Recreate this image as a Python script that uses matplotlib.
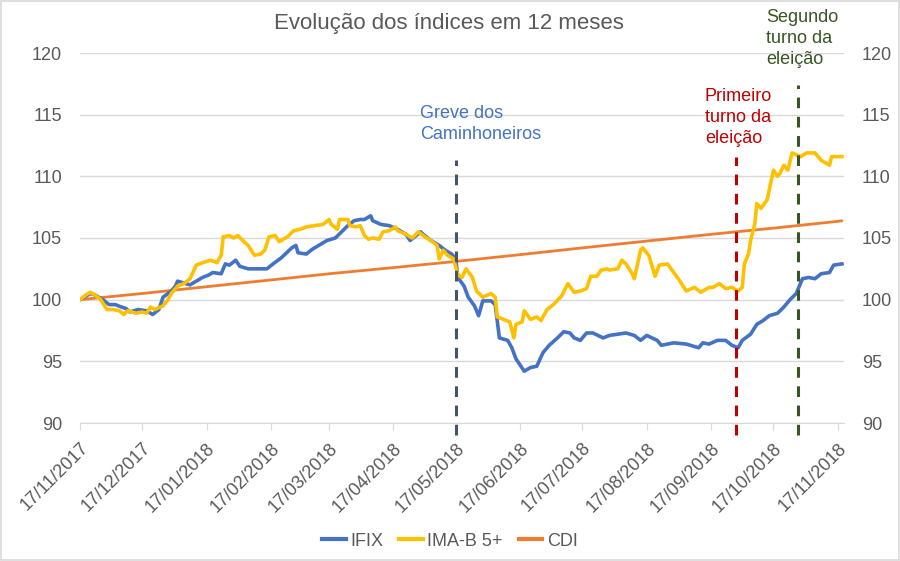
import matplotlib
matplotlib.use("Agg")
import matplotlib.pyplot as plt
from matplotlib.patches import Rectangle
from matplotlib.lines import Line2D
import numpy as np
import datetime as dt

plt.rcParams['font.family'] = ['Liberation Sans', 'DejaVu Sans']

start = dt.date(2017, 11, 17)

# days since 17/11/2017 and index values
ifix_days = [0, 5, 7, 11, 14, 17, 20, 22, 24, 28, 32, 35, 38, 40, 44, 46, 47, 51, 53, 56,
             59, 62, 64, 68, 70, 72, 75, 77, 81, 86, 90, 93, 97, 102, 104, 105, 109, 112, 116, 119,
             123, 126, 129, 132, 135, 137, 140, 141, 145, 149, 153, 157, 159, 162, 164, 166, 169, 173, 176, 179,
             181, 182, 185, 187, 190, 192, 194, 198, 200, 202, 206, 208, 210, 214, 217, 220, 223, 226, 230, 233,
             236, 238, 241, 244, 247, 252, 255, 259, 263, 267, 270, 273, 278, 280, 286, 292, 298, 300, 303, 307,
             311, 314, 317, 319, 323, 326, 329, 332, 336, 339, 342, 345, 348, 351, 354, 357, 361, 363, 367]
ifix_vals = [100.0, 100.5, 100.4, 100.0, 99.6, 99.6, 99.4, 99.3, 99.0, 99.2, 99.1, 98.8, 99.2, 100.2, 100.7, 101.1, 101.5, 101.3, 101.2, 101.5,
             101.8, 102.0, 102.2, 102.1, 102.9, 102.8, 103.2, 102.7, 102.5, 102.5, 102.5, 102.9, 103.4, 104.2, 104.4, 103.8, 103.7, 104.1, 104.5, 104.8,
             105.0, 105.5, 106.0, 106.4, 106.5, 106.5, 106.8, 106.4, 106.1, 106.0, 105.7, 105.3, 104.8, 105.2, 105.5, 105.2, 104.8, 104.4, 104.0, 103.7,
             103.3, 101.8, 101.1, 100.2, 99.5, 98.7, 99.9, 99.9, 99.6, 96.9, 96.7, 96.1, 95.2, 94.2, 94.5, 94.6, 95.7, 96.3, 96.9, 97.4,
             97.3, 96.9, 96.7, 97.3, 97.3, 96.9, 97.1, 97.2, 97.3, 97.1, 96.7, 97.1, 96.7, 96.3, 96.5, 96.4, 96.1, 96.5, 96.4, 96.7,
             96.7, 96.3, 96.1, 96.7, 97.2, 98.0, 98.3, 98.7, 98.9, 99.4, 100.0, 100.5, 101.7, 101.8, 101.7, 102.1, 102.2, 102.8, 102.9]

imab_days = [0, 3, 5, 7, 10, 13, 16, 19, 21, 23, 27, 30, 32, 34, 36, 40, 42, 44, 47, 50,
             53, 56, 59, 63, 66, 68, 69, 72, 74, 76, 79, 81, 84, 87, 89, 91, 94, 96, 100, 103,
             106, 109, 113, 117, 120, 121, 124, 125, 129, 130, 133, 135, 137, 139, 141, 144, 146, 149, 152, 153,
             157, 160, 163, 166, 169, 172, 173, 175, 177, 180, 182, 184, 186, 189, 191, 194, 198, 200, 201, 204,
             207, 209, 210, 213, 214, 217, 220, 222, 225, 228, 232, 235, 238, 241, 244, 246, 249, 251, 254, 255,
             259, 261, 263, 266, 267, 270, 271, 274, 277, 279, 283, 286, 289, 292, 296, 299, 303, 305, 308, 311,
             314, 317, 319, 320, 322, 323, 325, 326, 328, 331, 332, 334, 336, 337, 339, 341, 343, 347, 350, 354,
             357, 361, 362, 367]
imab_vals = [100.0, 100.4, 100.6, 100.4, 100.0, 99.2, 99.2, 99.1, 98.8, 99.1, 98.9, 99.0, 98.9, 99.4, 99.2, 99.5, 99.9, 100.5, 101.1, 101.3,
             101.7, 102.8, 103.0, 103.2, 103.0, 103.6, 105.1, 105.2, 105.0, 105.2, 104.7, 104.4, 103.6, 103.7, 104.0, 105.1, 105.2, 104.7, 105.1, 105.6,
             105.7, 105.9, 106.0, 106.1, 106.5, 106.1, 105.7, 106.5, 106.5, 106.0, 105.9, 106.0, 105.2, 104.9, 105.0, 104.9, 105.5, 105.6, 105.9, 105.6,
             105.3, 105.0, 105.5, 105.1, 104.8, 104.4, 103.3, 104.0, 103.6, 103.3, 102.0, 101.8, 102.5, 101.8, 100.7, 100.2, 100.5, 100.2, 98.6, 98.4,
             98.2, 96.9, 98.0, 98.2, 99.1, 98.4, 98.6, 98.3, 99.2, 99.6, 100.3, 101.3, 100.6, 100.7, 100.9, 101.9, 101.9, 102.4, 102.5, 102.4,
             102.5, 103.2, 102.9, 102.1, 101.7, 104.0, 104.2, 103.6, 101.9, 102.8, 102.9, 102.2, 101.5, 100.7, 101.0, 100.6, 101.0, 101.0, 101.3, 100.9,
             101.0, 100.7, 101.0, 102.9, 103.7, 104.8, 106.1, 107.8, 107.4, 108.1, 108.9, 110.5, 110.0, 110.2, 110.9, 110.5, 111.9, 111.6, 111.9, 111.9,
             111.3, 110.9, 111.6, 111.6]

cdi_days = [0, 30, 61, 92, 120, 151, 181, 212, 242, 273, 304, 334, 365, 367]
cdi_vals = [100.0, 100.5, 101.05, 101.6, 102.1, 102.6, 103.1, 103.65, 104.2, 104.75, 105.3, 105.8, 106.35, 106.4]

tick_labels = ['17/11/2017', '17/12/2017', '17/01/2018', '17/02/2018', '17/03/2018', '17/04/2018',
               '17/05/2018', '17/06/2018', '17/07/2018', '17/08/2018', '17/09/2018', '17/10/2018',
               '17/11/2018']

events = ['Greve dos\nCaminhoneiros', 'Primeiro\nturno da\neleição', 'Segundo\nturno da\neleição']
event_dates = ['2018-05-17', '2018-09-29', '2018-10-29']
event_colors = ['#44546A', '#C00000', '#375623']


def to_dates(days):
    return [start + dt.timedelta(days=d) for d in days]


W, H = 900, 561
fig = plt.figure(figsize=(W / 100, H / 100), dpi=100)
ax = fig.add_axes([80 / W, 1 - 423 / H, (844 - 80) / W, (423 - 53) / H])

ax.plot(to_dates(cdi_days), cdi_vals, color='#ED7D31', lw=2.0, zorder=3, solid_capstyle='round')
ax.plot(to_dates(imab_days), imab_vals, color='#FFC000', lw=2.6, zorder=4, solid_joinstyle='round')
ax.plot(to_dates(ifix_days), ifix_vals, color='#4472C4', lw=2.6, zorder=3.5, solid_joinstyle='round')

ax.set_ylim(90, 120)
ax.set_yticks(np.arange(90, 121, 5))
ax.set_xlim(dt.date(2017, 11, 17), dt.date(2018, 11, 20))
tick_dates = [dt.datetime.strptime(t, '%d/%m/%Y').date() for t in tick_labels]
ax.set_xticks(tick_dates)
ax.set_xticklabels(tick_labels, rotation=45, ha='right', rotation_mode='anchor', fontsize=13, color='#595959')
ax.tick_params(axis='x', length=5, color='#D9D9D9', pad=7)
ax.tick_params(axis='y', length=0, labelsize=13, labelcolor='#595959', pad=13)
ax.grid(axis='y', color='#D9D9D9', lw=1)
ax.set_axisbelow(True)
for s in ['top', 'right', 'left']:
    ax.spines[s].set_visible(False)
ax.spines['bottom'].set_color('#D9D9D9')

ax2 = ax.twinx()
ax2.set_ylim(90, 120)
ax2.set_yticks(np.arange(90, 121, 5))
ax2.tick_params(axis='y', length=0, labelsize=13, labelcolor='#595959', pad=13)
for s in ax2.spines.values():
    s.set_visible(False)

# event lines
tops = [111.3, 111.6, 117.4]
for d, c, t in zip(event_dates, event_colors, tops):
    x = dt.datetime.strptime(d, '%Y-%m-%d').date()
    ax.plot([x, x], [89.0, t], color=c, lw=2.2, ls=(0, (3.5, 2.8)), clip_on=False, zorder=5)

text_pos = [(420, 112), (705, 95), (766, 16)]
text_colors = ['#4472C4', '#C00000', '#375623']
for txt, (px, py), c in zip(events, text_pos, text_colors):
    fig.text(px / W, 1 - (py - 7) / H, txt, color=c, fontsize=13, ha='left', va='top',
             linespacing=1.3)

fig.text(449 / W, 1 - 24 / H, 'Evolução dos índices em 12 meses', ha='center', va='center',
         fontsize=16, color='#595959')

handles = [Line2D([], [], color='#4472C4', lw=3),
           Line2D([], [], color='#FFC000', lw=3),
           Line2D([], [], color='#ED7D31', lw=3)]
fig.legend(handles, ['IFIX', 'IMA-B 5+', 'CDI'], loc='center', bbox_to_anchor=(450 / W, 1 - 541 / H),
           ncol=3, frameon=False, fontsize=13, handlelength=1.3, handletextpad=0.25, columnspacing=0.9,
           labelcolor='#595959')

fig.patches.append(Rectangle((1 / W, 1 / H), 1 - 2 / W, 1 - 2 / H, transform=fig.transFigure,
                             fill=False, edgecolor='#D9D9D9', lw=1.2))

fig.savefig('out.png', dpi=100)
